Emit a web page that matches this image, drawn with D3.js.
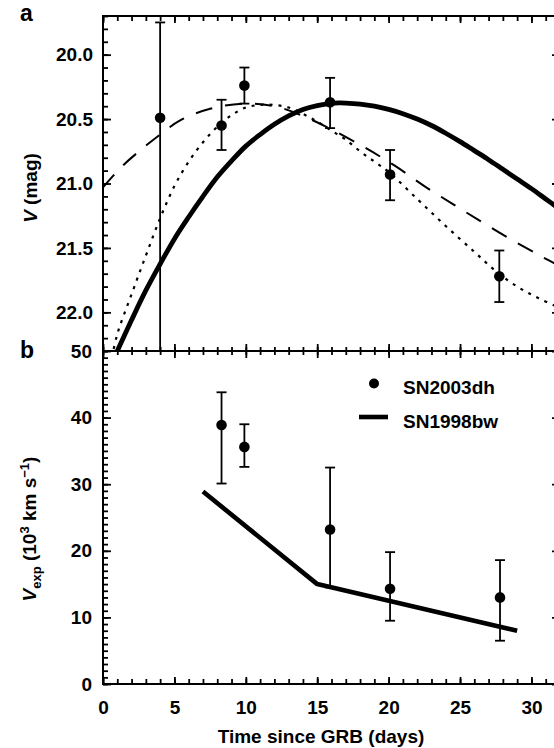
<!DOCTYPE html>
<html>
<head>
<meta charset="utf-8">
<script src="https://cdn.jsdelivr.net/npm/d3@7"></script>
<style>
  html, body { margin: 0; padding: 0; background: #fff; }
  svg { display: block; }
  text { font-family: "Liberation Sans", Arial, Helvetica, sans-serif; font-weight: bold; fill: #000; }
</style>
</head>
<body>
<svg id="chart" width="554" height="748"></svg>
<script>
// ---------- DATA ----------
// Panel a: SN2003dh V-band photometry (days since GRB, V mag, error)
const photDays = [4.0, 8.3, 9.9, 15.9, 20.1, 27.75];
const photMag  = [20.49, 20.55, 20.24, 20.37, 20.93, 21.72];
const photErrUp   = [0.74, 0.20, 0.14, 0.19, 0.19, 0.20];
const photErrDown = [2.0, 0.19, 0.14, 0.20, 0.20, 0.20];

// Model light curves (days, V mag)
const solidDays = [0.6, 1, 2, 3, 4, 5, 6, 7, 8, 9, 10, 11, 12, 13, 14, 15, 16, 16.5, 17, 18, 19, 20, 21, 22, 23, 24, 25, 26, 27, 28, 29, 30, 31, 32, 32.3];
const solidMag  = [22.40, 22.30, 22.06, 21.83, 21.625, 21.43, 21.26, 21.10, 20.95, 20.825, 20.71, 20.62, 20.54, 20.475, 20.425, 20.395, 20.378, 20.375, 20.376, 20.384, 20.40, 20.425, 20.458, 20.50, 20.55, 20.61, 20.675, 20.745, 20.815, 20.89, 20.965, 21.04, 21.12, 21.20, 21.225];

const dashDays = [0, 1.4, 3.08, 4.0, 5.4, 7.5, 9.9, 12.0, 14.5, 18.0, 20.4, 22.5, 24.5, 26.4, 28.5, 30.6, 32.3];
const dashMag  = [21.03, 20.86, 20.70, 20.62, 20.51, 20.42, 20.38, 20.40, 20.50, 20.70, 20.86, 21.02, 21.16, 21.29, 21.43, 21.56, 21.66];

const dotDays = [0.5, 1, 2, 3, 4, 5, 6, 7, 8, 9, 10, 11, 12, 13, 14, 15, 16, 17, 18, 19, 20, 22, 24, 26, 27.5, 29, 30.5, 32.3];
const dotMag  = [22.42, 22.17, 21.86, 21.56, 21.27, 21.02, 20.83, 20.68, 20.56, 20.47, 20.41, 20.39, 20.39, 20.41, 20.46, 20.52, 20.59, 20.66, 20.75, 20.83, 20.91, 21.12, 21.33, 21.53, 21.68, 21.80, 21.89, 21.98];

// Panel b: expansion velocities (10^3 km/s)
const velDays = [8.3, 9.9, 15.9, 20.1, 27.8];
const velVal  = [38.9, 35.6, 23.2, 14.3, 13.0];
const velHigh = [43.8, 39.0, 32.5, 19.8, 18.6];
const velLow  = [30.1, 32.6, 14.5, 9.5, 6.5];

const bwDays = [7.0, 15.0, 29.0];
const bwVel  = [28.9, 15.0, 8.0];

// Tick values
const xMajor = [0, 5, 10, 15, 20, 25, 30];
const xMinor = d3.range(0, 33, 1);
const magMajor = [20.0, 20.5, 21.0, 21.5, 22.0];
const magMinor = d3.range(197, 224, 1).map(v => v / 10);
const velMajor = [0, 10, 20, 30, 40, 50];
const velMinor = d3.range(0, 51, 1);

const legendLabels = ["SN2003dh", "SN1998bw"];

// ---------- LAYOUT ----------
const svg = d3.select("#chart");
const L = 103, R = 560, T = 16, MID = 351, B = 684;

const x = d3.scaleLinear().domain([0, 32]).range([L, R]);
const yA = d3.scaleLinear().domain([19.7, 22.3]).range([T, MID]);
const yB = d3.scaleLinear().domain([0, 50]).range([B, MID]);

const defs = svg.append("defs");
defs.append("clipPath").attr("id", "clipA").append("rect")
  .attr("x", L).attr("y", T).attr("width", R - L).attr("height", MID - T);
defs.append("clipPath").attr("id", "clipB").append("rect")
  .attr("x", L).attr("y", MID).attr("width", R - L).attr("height", B - MID);

// ---------- AXES ----------
function noDomain(g) { g.select(".domain").remove(); }
const sw = 1.8;

// top edge ticks (inward = down)
svg.append("g").attr("transform", `translate(0,${T})`)
  .call(d3.axisTop(x).tickValues(xMinor).tickSize(-5).tickFormat(""))
  .call(noDomain).selectAll("line").attr("stroke-width", sw);
svg.append("g").attr("transform", `translate(0,${T})`)
  .call(d3.axisTop(x).tickValues(xMajor).tickSize(-7).tickFormat(""))
  .call(noDomain).selectAll("line").attr("stroke-width", sw);

// middle shared axis: ticks both directions
svg.append("g").attr("transform", `translate(0,${MID})`)
  .call(d3.axisTop(x).tickValues(xMinor).tickSize(4).tickFormat(""))
  .call(noDomain).selectAll("line").attr("stroke-width", sw);
svg.append("g").attr("transform", `translate(0,${MID})`)
  .call(d3.axisBottom(x).tickValues(xMinor).tickSize(4).tickFormat(""))
  .call(noDomain).selectAll("line").attr("stroke-width", sw);
svg.append("g").attr("transform", `translate(0,${MID})`)
  .call(d3.axisTop(x).tickValues(xMajor).tickSize(7).tickFormat(""))
  .call(noDomain).selectAll("line").attr("stroke-width", sw);
svg.append("g").attr("transform", `translate(0,${MID})`)
  .call(d3.axisBottom(x).tickValues(xMajor).tickSize(7).tickFormat(""))
  .call(noDomain).selectAll("line").attr("stroke-width", sw);

// bottom axis (inward = up) with labels
svg.append("g").attr("transform", `translate(0,${B})`)
  .call(d3.axisBottom(x).tickValues(xMinor).tickSize(-5).tickFormat(""))
  .call(noDomain).selectAll("line").attr("stroke-width", sw);
const xAxisG = svg.append("g").attr("transform", `translate(0,${B})`)
  .call(d3.axisBottom(x).tickValues(xMajor).tickSize(-7).tickPadding(16.5).tickFormat(d3.format("d")))
  .call(noDomain);
xAxisG.selectAll("line").attr("stroke-width", sw);
xAxisG.selectAll("text").attr("font-size", 19).attr("font-family", null);

// left axis panel a
svg.append("g").attr("transform", `translate(${L},0)`)
  .call(d3.axisLeft(yA).tickValues(magMinor).tickSize(-5).tickFormat(""))
  .call(noDomain).selectAll("line").attr("stroke-width", sw);
const yAG = svg.append("g").attr("transform", `translate(${L},0)`)
  .call(d3.axisLeft(yA).tickValues(magMajor).tickSize(-8).tickPadding(10).tickFormat(d3.format(".1f")))
  .call(noDomain);
yAG.selectAll("line").attr("stroke-width", sw);
yAG.selectAll("text").attr("font-size", 19).attr("font-family", null);

// left axis panel b
svg.append("g").attr("transform", `translate(${L},0)`)
  .call(d3.axisLeft(yB).tickValues(velMinor).tickSize(-5).tickFormat(""))
  .call(noDomain).selectAll("line").attr("stroke-width", sw);
const yBG = svg.append("g").attr("transform", `translate(${L},0)`)
  .call(d3.axisLeft(yB).tickValues(velMajor).tickSize(-8).tickPadding(11).tickFormat(d3.format("d")))
  .call(noDomain);
yBG.selectAll("line").attr("stroke-width", sw);
yBG.selectAll("text").attr("font-size", 19).attr("font-family", null);

// right axes (mirror ticks, inward = left)
svg.append("g").attr("transform", `translate(${R},0)`)
  .call(d3.axisRight(yA).tickValues(magMajor).tickSize(-8).tickFormat(""))
  .call(noDomain).selectAll("line").attr("stroke-width", sw);
svg.append("g").attr("transform", `translate(${R},0)`)
  .call(d3.axisRight(yA).tickValues(magMinor).tickSize(-5).tickFormat(""))
  .call(noDomain).selectAll("line").attr("stroke-width", sw);
svg.append("g").attr("transform", `translate(${R},0)`)
  .call(d3.axisRight(yB).tickValues(velMajor).tickSize(-8).tickFormat(""))
  .call(noDomain).selectAll("line").attr("stroke-width", sw);
svg.append("g").attr("transform", `translate(${R},0)`)
  .call(d3.axisRight(yB).tickValues(velMinor).tickSize(-5).tickFormat(""))
  .call(noDomain).selectAll("line").attr("stroke-width", sw);

// frame
const frame = svg.append("g").attr("stroke", "#000").attr("stroke-width", 2).attr("fill", "none");
frame.append("rect").attr("x", L).attr("y", T).attr("width", R - L).attr("height", B - T);
frame.append("line").attr("x1", L).attr("x2", R).attr("y1", MID).attr("y2", MID);

// ---------- PANEL A ----------
const gA = svg.append("g").attr("clip-path", "url(#clipA)");
const lineA = d3.line().x(d => x(d[0])).y(d => yA(d[1])).curve(d3.curveCatmullRom.alpha(0.5));

gA.append("path").datum(d3.zip(dashDays, dashMag)).attr("d", lineA)
  .attr("fill", "none").attr("stroke", "#000").attr("stroke-width", 2).attr("stroke-dasharray", "17,13");
gA.append("path").datum(d3.zip(dotDays, dotMag)).attr("d", lineA)
  .attr("fill", "none").attr("stroke", "#000").attr("stroke-width", 2.2).attr("stroke-dasharray", "3,6");
gA.append("path").datum(d3.zip(solidDays, solidMag)).attr("d", lineA)
  .attr("fill", "none").attr("stroke", "#000").attr("stroke-width", 4.8);

const phot = photDays.map((d, i) => ({ t: d, m: photMag[i], up: photMag[i] - photErrUp[i], dn: photMag[i] + photErrDown[i] }));
const eb = gA.append("g").attr("stroke", "#000").attr("stroke-width", 1.8);
eb.selectAll(".v").data(phot).join("line")
  .attr("x1", d => x(d.t)).attr("x2", d => x(d.t)).attr("y1", d => yA(d.up)).attr("y2", d => yA(d.dn));
eb.selectAll(".ct").data(phot).join("line")
  .attr("x1", d => x(d.t) - 5).attr("x2", d => x(d.t) + 5).attr("y1", d => yA(d.up)).attr("y2", d => yA(d.up));
eb.selectAll(".cb").data(phot).join("line")
  .attr("x1", d => x(d.t) - 5).attr("x2", d => x(d.t) + 5).attr("y1", d => yA(d.dn)).attr("y2", d => yA(d.dn));
gA.selectAll("circle").data(phot).join("circle")
  .attr("cx", d => x(d.t)).attr("cy", d => yA(d.m)).attr("r", 5.3).attr("fill", "#000");

// ---------- PANEL B ----------
const gB = svg.append("g").attr("clip-path", "url(#clipB)");
const lineB = d3.line().x(d => x(d[0])).y(d => yB(d[1]));
gB.append("path").datum(d3.zip(bwDays, bwVel)).attr("d", lineB)
  .attr("fill", "none").attr("stroke", "#000").attr("stroke-width", 4.6).attr("stroke-linejoin", "bevel");

const vel = velDays.map((d, i) => ({ t: d, v: velVal[i], hi: velHigh[i], lo: velLow[i] }));
const ebB = gB.append("g").attr("stroke", "#000").attr("stroke-width", 1.8);
ebB.selectAll(".v").data(vel).join("line")
  .attr("x1", d => x(d.t)).attr("x2", d => x(d.t)).attr("y1", d => yB(d.hi)).attr("y2", d => yB(d.lo));
ebB.selectAll(".ct").data(vel).join("line")
  .attr("x1", d => x(d.t) - 5).attr("x2", d => x(d.t) + 5).attr("y1", d => yB(d.hi)).attr("y2", d => yB(d.hi));
ebB.selectAll(".cb").data(vel).join("line")
  .attr("x1", d => x(d.t) - 5).attr("x2", d => x(d.t) + 5).attr("y1", d => yB(d.lo)).attr("y2", d => yB(d.lo));
gB.selectAll("circle").data(vel).join("circle")
  .attr("cx", d => x(d.t)).attr("cy", d => yB(d.v)).attr("r", 5.3).attr("fill", "#000");

// legend
const leg = svg.append("g");
leg.append("circle").attr("cx", 374).attr("cy", 383.5).attr("r", 5).attr("fill", "#000");
leg.append("text").attr("x", 403).attr("y", 393.5).attr("font-size", 19).text(legendLabels[0]);
leg.append("line").attr("x1", 359).attr("x2", 388).attr("y1", 417).attr("y2", 417)
  .attr("stroke", "#000").attr("stroke-width", 4.6);
leg.append("text").attr("x", 403).attr("y", 427.5).attr("font-size", 19).text(legendLabels[1]);

// ---------- LABELS ----------
svg.append("text").attr("x", 20).attr("y", 21).attr("font-size", 23).text("a");
svg.append("text").attr("x", 20).attr("y", 358).attr("font-size", 23).text("b");

const yLabA = svg.append("text").attr("transform", "translate(37,188) rotate(-90)")
  .attr("text-anchor", "middle").attr("font-size", 19);
yLabA.append("tspan").attr("font-style", "italic").text("V");
yLabA.append("tspan").text(" (mag)");

const yLabB = svg.append("text").attr("transform", "translate(36,529) rotate(-90)")
  .attr("text-anchor", "middle").attr("font-size", 19);
yLabB.append("tspan").attr("font-style", "italic").text("V");
yLabB.append("tspan").attr("font-size", 13).attr("dy", 5).text("exp");
yLabB.append("tspan").attr("dy", -5).text(" (10");
yLabB.append("tspan").attr("font-size", 13).attr("dy", -7).text("3");
yLabB.append("tspan").attr("dy", 7).text(" km s");
yLabB.append("tspan").attr("font-size", 13).attr("dy", -7).text("\u22121");
yLabB.append("tspan").attr("dy", 7).text(")");

svg.append("text").attr("x", 321).attr("y", 743).attr("text-anchor", "middle")
  .attr("font-size", 19).text("Time since GRB (days)");
</script>
</body>
</html>
